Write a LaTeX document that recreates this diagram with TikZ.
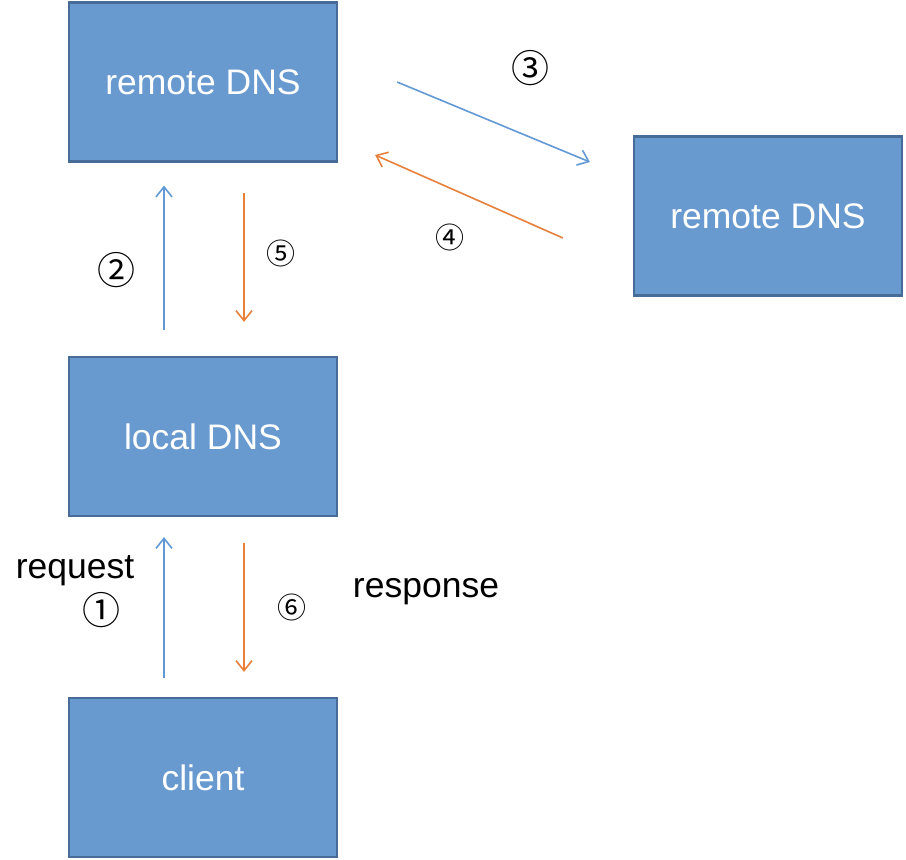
\documentclass[tikz,border=0pt]{standalone}
\usepackage{fontspec}
\setmainfont{Liberation Sans}
\newfontfamily\cjk{Noto Sans CJK SC}
\usepackage{tikz}
\usetikzlibrary{arrows.meta, calc, positioning}

\definecolor{boxfill}{RGB}{104,154,207}
\definecolor{boxline}{RGB}{72,108,152}
\definecolor{reqblue}{RGB}{98,152,212}
\definecolor{resorange}{RGB}{232,128,60}

\begin{document}
\begin{tikzpicture}[x=1pt, y=-1pt,
    dnsbox/.style={draw=boxline, line width=2.2pt, fill=boxfill, text=white,
        minimum width=268pt, minimum height=159pt, inner sep=0pt,
        font=\fontsize{35.5}{40}\selectfont},
    reqarrow/.style={draw=reqblue, line width=1.6pt, -{Straight Barb[length=10pt, width=16pt]}},
    resarrow/.style={draw=resorange, line width=1.6pt, -{Straight Barb[length=10pt, width=16pt]}},
    bignum/.style={font=\cjk\fontsize{38}{40}\selectfont},
    smallnum/.style={font=\cjk\fontsize{29}{32}\selectfont},
    plainlabel/.style={font=\fontsize{35.5}{40}\selectfont}]
    % --- 描画範囲 ---
    \useasboundingbox (0,0) rectangle (906,860);

    % --- ボックス ---
    \node[dnsbox] (remote1) at (203,82) {remote DNS};
    \node[dnsbox] (remote2) at (768,216) {remote DNS};
    \node[dnsbox] (local) at (203,436.5) {local DNS};
    \node[dnsbox] (client) at (203,777.5) {client};

    % --- client <-> local DNS ---
    \draw[reqarrow, shorten <=19pt, shorten >=20pt] ([xshift=-39pt]client.north) -- ([xshift=-39pt]local.south);
    \draw[resarrow, shorten <=26pt, shorten >=25pt] ([xshift=41pt]local.south) -- ([xshift=41pt]client.north);

    % --- local DNS <-> remote DNS ---
    \draw[reqarrow, shorten <=26pt, shorten >=23pt] ([xshift=-39pt]local.north) -- ([xshift=-39pt]remote1.south);
    \draw[resarrow, shorten <=30pt, shorten >=34pt] ([xshift=41pt]remote1.south) -- ([xshift=41pt]local.north);

    % --- remote DNS <-> remote DNS ---
    \draw[reqarrow] ($(remote1.east)+(59,0)$) -- ($(remote2.west)+(-43,-54)$);
    \draw[resarrow] ($(remote2.west)+(-70,22)$) -- ($(remote1.east)+(37,73)$);

    % --- 番号とラベル ---
    \node[bignum] (n1) at (101,610) {①};
    \node[bignum] (n2) at (116,270) {②};
    \node[bignum] (n3) at (530,68) {③};
    \node[smallnum] (n4) at (450,237) {④};
    \node[smallnum] (n5) at (281,253) {⑤};
    \node[smallnum] (n6) at (292,607) {⑥};
    \node[plainlabel] (req) at (75,571) {request};
    \node[plainlabel] (res) at (426,592) {response};
\end{tikzpicture}
\end{document}
